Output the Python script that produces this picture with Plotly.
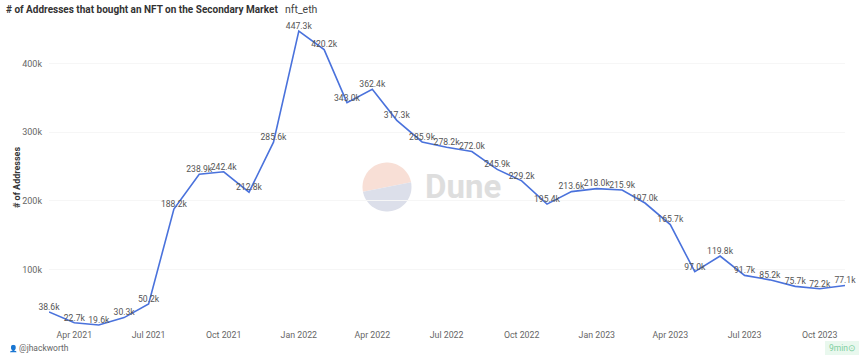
import math
import pandas as pd
import plotly.graph_objects as go

W, H = 865, 359
months = pd.date_range("2021-03-01", "2023-11-01", freq="MS")
values_k = [38.6, 22.7, 19.6, 30.3, 50.2, 188.2, 238.9, 242.4, 212.8, 285.6, 447.3,
            420.2, 343.0, 362.4, 317.3, 285.9, 278.2, 272.0, 245.9, 229.2, 195.4,
            213.6, 218.0, 215.9, 197.0, 165.7, 97.0, 119.8, 91.7, 85.2, 75.7, 72.2, 77.1]
values = [v * 1000 for v in values_k]
labels = [f"{v:.1f}k" for v in values_k]
y_ticks = [100000, 200000, 300000, 400000]
y_tick_labels = ["100k", "200k", "300k", "400k"]

LEFT, RIGHT, TOP, BOTTOM = 49, 845, 20, 328
PX_PER_UNIT = 68.7 / 100000
y_low = 200000 - (BOTTOM - 201) / PX_PER_UNIT
y_high = 400000 + (63.5 - TOP) / PX_PER_UNIT
FONT = "Roboto, Noto Sans, sans-serif"


def px(x):
    return (x - LEFT) / (RIGHT - LEFT)


def py(y):
    return (BOTTOM - y) / (BOTTOM - TOP)


def logo_path(cx, cy, r, a0, a1):
    n = 40
    pts = [(cx + r * math.cos(a0 + (a1 - a0) * i / n), cy + r * math.sin(a0 + (a1 - a0) * i / n))
           for i in range(n + 1)]
    return "M " + " L ".join(f"{px(x):.5f} {py(y):.5f}" for x, y in pts) + " Z"


cx, cy, r = 387, 187, 24.5
split = math.radians(-11)
shapes = [
    dict(type="path", xref="paper", yref="paper", layer="below", line_width=0,
         fillcolor="#f8dfd6", path=logo_path(cx, cy, r, math.pi + split, 2 * math.pi + split)),
    dict(type="path", xref="paper", yref="paper", layer="below", line_width=0,
         fillcolor="#dcdfea", path=logo_path(cx, cy, r, split, math.pi + split)),
    dict(type="rect", xref="paper", yref="paper", layer="below", line_width=0,
         fillcolor="#e9f8ee", x0=px(825), x1=px(859), y0=py(355), y1=py(341)),
]

annotations = [
    dict(text="<b># of Addresses that bought an NFT on the Secondary Market</b>", x=px(4), y=py(9.5),
         font=dict(size=10, color="#333333", family=FONT)),
    dict(text="nft_eth", x=px(283), y=py(9.5), font=dict(size=10.5, color="#444444", family=FONT)),
    dict(text="<b>Dune</b>", x=px(423), y=py(187), font=dict(size=33, color="#dedede", family=FONT)),
    dict(text="@jhackworth", x=px(17), y=py(348), font=dict(size=8.5, color="#666666", family=FONT)),
    dict(text="👤", x=px(7), y=py(348), font=dict(size=7, color="#555555", family=FONT)),
    dict(text="9min", x=px(827), y=py(348), font=dict(size=8.5, color="#7fcf9f", family=FONT)),
    dict(text="⊙", x=px(846), y=py(348), font=dict(size=9, color="#7fcf9f", family=FONT)),
    dict(text="<b># of Addresses</b>", x=px(17), y=py(178), textangle=-90, xanchor="center",
         font=dict(size=9, color="#333333", family=FONT)),
]
for a in annotations:
    a.setdefault("xanchor", "left")
    a.update(xref="paper", yref="paper", yanchor="middle", showarrow=False)

fig = go.Figure(go.Scatter(
    x=months, y=values, mode="lines+text", text=labels, textposition="top center",
    textfont=dict(size=8.6, color="#555555", family=FONT),
    line=dict(color="#4a72dc", width=1.6), cliponaxis=False, hoverinfo="skip",
))
fig.update_layout(
    width=W, height=H, autosize=False, showlegend=False,
    paper_bgcolor="white", plot_bgcolor="white",
    margin=dict(l=LEFT, r=W - RIGHT, t=TOP, b=H - BOTTOM, pad=0, autoexpand=False),
    shapes=shapes, annotations=annotations,
    xaxis=dict(type="date", range=[months[0], months[-1]], dtick="M3", tick0="2021-04-01",
               tickformat="%b %Y", showgrid=False, zeroline=False, showline=False, ticks="",
               automargin=False, tickfont=dict(size=8.8, color="#666666", family=FONT)),
    yaxis=dict(range=[y_low, y_high], tickvals=y_ticks, ticktext=y_tick_labels,
               showgrid=True, gridcolor="#f6f6f6", gridwidth=1, zeroline=False, showline=False,
               ticks="", ticklabelstandoff=6, automargin=False,
               tickfont=dict(size=9, color="#666666", family=FONT)),
)
fig.write_html("out.html", config={"displayModeBar": False},
               post_script="document.body.style.margin='0';document.body.style.overflow='hidden';")
